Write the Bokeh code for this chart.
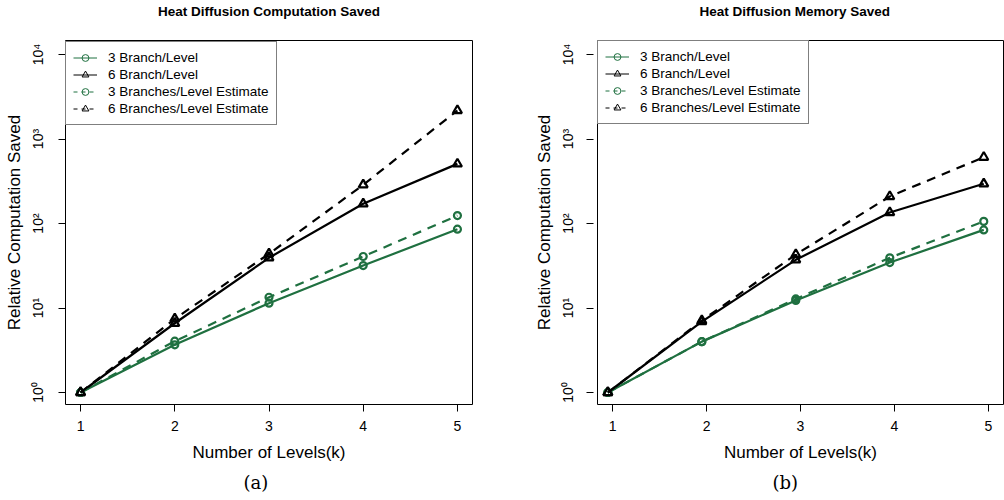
from bokeh.plotting import figure
from bokeh.models import (FixedTicker, Range1d, Legend, LegendItem, Title,
                          ColumnDataSource)
from bokeh.layouts import row
from bokeh.embed import file_html
from bokeh.resources import INLINE

# ---- data ----
levels_a = [1, 2, 3, 4, 5]
levels_b = [0.95, 1.95, 2.95, 3.95, 4.95]

comp_3 = [1, 3.67, 11.4, 31.8, 85.7]
comp_6 = [1, 6.6, 39.3, 171, 508]
comp_3_est = [1, 4.05, 13.4, 40.7, 124]
comp_6_est = [1, 7.45, 43.8, 287, 2175]

mem_3 = [1, 4.0, 12.3, 34.5, 84]
mem_6 = [1, 6.9, 37.2, 135, 295]
mem_3_est = [1, 4.0, 12.8, 39.3, 106]
mem_6_est = [1, 7.1, 43, 209, 609]

series_names = ["3 Branch/Level", "6 Branch/Level",
                "3 Branches/Level Estimate", "6 Branches/Level Estimate"]
y_ticks = [1, 10, 100, 1000, 10000]
y_tick_labels = ["10\u2070", "10\u00b9", "10\u00b2", "10\u00b3", "10\u2074"]
x_ticks = [1, 2, 3, 4, 5]

GREEN = "#1f7040"
BLACK = "#000000"
FONT = "Liberation Sans"

FRAME_H = 364
TOP = 40
BOTTOM = 96
Y_LO, Y_HI = -0.142, 4.166


def panel(title, caption, xs, s3, s6, s3e, s6e, *, bl, br, fw,
          title_align, title_offset, cap_offset, tick_in, tick_out,
          ylab_standoff, yaxlab_standoff, legend_loc):
    p = figure(frame_width=fw, frame_height=FRAME_H, y_axis_type="log",
               x_range=Range1d(0.84, 5.16),
               y_range=Range1d(10 ** Y_LO, 10 ** Y_HI),
               output_backend="svg", toolbar_location=None,
               min_border_left=bl, min_border_right=br,
               min_border_top=TOP, min_border_bottom=BOTTOM)
    p.background_fill_color = "white"
    p.border_fill_color = "white"
    p.outline_line_color = "black"
    p.outline_line_width = 1
    p.xgrid.visible = False
    p.ygrid.visible = False

    # axes
    p.xaxis.ticker = FixedTicker(ticks=x_ticks)
    p.xaxis.axis_line_color = None
    p.xaxis.major_tick_out = 7
    p.xaxis.major_tick_in = 0
    p.xaxis.major_tick_line_color = "black"
    p.xaxis.minor_tick_line_color = None
    p.xaxis.major_label_standoff = 9
    p.xaxis.major_label_text_font = FONT
    p.xaxis.major_label_text_font_size = "14px"
    p.xaxis.major_label_text_color = "black"
    p.xaxis.axis_label = "Number of Levels(k)"
    p.xaxis.axis_label_text_font = FONT
    p.xaxis.axis_label_text_font_size = "17px"
    p.xaxis.axis_label_text_font_style = "normal"
    p.xaxis.axis_label_text_color = "black"
    p.xaxis.axis_label_standoff = 9

    p.yaxis.ticker = FixedTicker(ticks=y_ticks, minor_ticks=[])
    p.yaxis.major_label_overrides = {t: l for t, l in zip(y_ticks, y_tick_labels)}
    p.yaxis.axis_line_color = None
    p.yaxis.major_tick_out = tick_out
    p.yaxis.major_tick_in = tick_in
    p.yaxis.major_tick_line_color = "black"
    p.yaxis.minor_tick_line_color = None
    p.yaxis.major_label_orientation = "parallel"
    p.yaxis.major_label_standoff = ylab_standoff
    p.yaxis.major_label_text_font = FONT
    p.yaxis.major_label_text_font_size = "14px"
    p.yaxis.major_label_text_color = "black"
    p.yaxis.axis_label = "Relative Computation Saved"
    p.yaxis.axis_label_text_font = FONT
    p.yaxis.axis_label_text_font_size = "17px"
    p.yaxis.axis_label_text_font_style = "normal"
    p.yaxis.axis_label_text_color = "black"
    p.yaxis.axis_label_standoff = yaxlab_standoff

    # data
    specs = [
        (s3, GREEN, "solid", "solid", "circle", 7),
        (s6, BLACK, "solid", "solid", "triangle", 9),
        (s3e, GREEN, "9 7", "4 4", "circle", 7),
        (s6e, BLACK, "9 7", "4 4", "triangle", 9),
    ]
    items = []
    nan_y = [float("nan")] * len(xs)
    for (ys, col, dash, ldash, mk, sz), name in zip(specs, series_names):
        src = ColumnDataSource(dict(x=xs, y=ys))
        p.line("x", "y", source=src, line_color=col, line_width=2.2, line_dash=dash)
        p.scatter("x", "y", source=src, marker=mk, size=sz, fill_color=None,
                  line_color=col, line_width=2.2)
        # legend key (thin, like the original's key); holds no visible points
        key = ColumnDataSource(dict(x=xs, y=nan_y))
        lr = p.line("x", "y", source=key, line_color=col, line_width=1,
                    line_dash=ldash)
        sr = p.scatter("x", "y", source=key, marker=mk, size=sz - 1,
                       fill_color=None, line_color=col, line_width=1)
        items.append(LegendItem(label=name, renderers=[lr, sr]))

    leg = Legend(items=items, location=legend_loc, margin=0, padding=7,
                 spacing=0, label_height=17, glyph_height=17, glyph_width=24,
                 label_standoff=11, label_text_font=FONT,
                 label_text_font_size="13.5px", label_text_color="black",
                 border_line_color="black", border_line_width=1,
                 background_fill_color="white", background_fill_alpha=1)
    p.add_layout(leg, "center")

    # titles: a thin spacer next to the frame, then the title itself
    p.add_layout(Title(text=" ", text_font_size="1px", standoff=18), "above")
    p.add_layout(Title(text=title, align=title_align, offset=title_offset,
                       vertical_align="middle", text_font=FONT,
                       text_font_size="13.5px", text_font_style="bold",
                       text_color="black", standoff=0), "above")
    p.add_layout(Title(text=caption, align="left", offset=cap_offset,
                       vertical_align="bottom", text_font="DejaVu Serif",
                       text_font_size="18px", text_font_style="normal",
                       text_color="black", standoff=11), "below")
    return p


pa = panel("Heat Diffusion Computation Saved", "(a)", levels_a,
           comp_3, comp_6, comp_3_est, comp_6_est,
           bl=65, br=38, fw=407,
           title_align="center", title_offset=0, cap_offset=178,
           tick_in=0, tick_out=7, ylab_standoff=12, yaxlab_standoff=4,
           legend_loc=(0, 279))
pb = panel("Heat Diffusion Memory Saved", "(b)", levels_b,
           mem_3, mem_6, mem_3_est, mem_6_est,
           bl=87, br=1, fw=406,
           title_align="left", title_offset=102, cap_offset=175,
           tick_in=-4, tick_out=11, ylab_standoff=10, yaxlab_standoff=4,
           legend_loc=(0, 280))

layout = row(pa, pb)
open("out.html", "w").write(file_html(layout, INLINE))
